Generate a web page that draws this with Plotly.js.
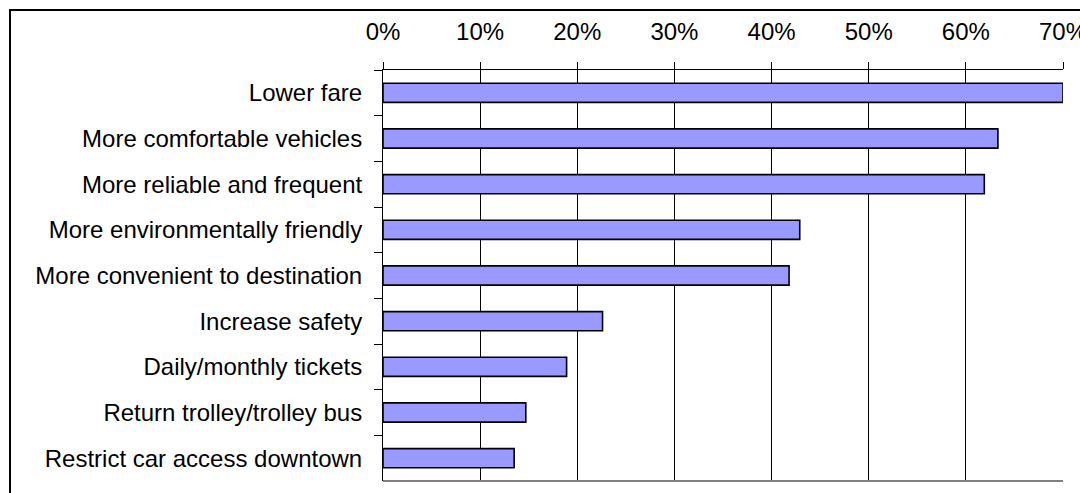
<!DOCTYPE html>
<html>
<head>
<meta charset="utf-8">
<script src="https://cdn.plot.ly/plotly-3.0.1.min.js"></script>
<style>
  html, body { margin: 0; padding: 0; background: #fff; }
  #chart { width: 1080px; height: 493px; }
</style>
</head>
<body>
<div id="chart"></div>
<script>
const categories = [
  'Lower fare',
  'More comfortable vehicles',
  'More reliable and frequent',
  'More environmentally friendly',
  'More convenient to destination',
  'Increase safety',
  'Daily/monthly tickets',
  'Return trolley/trolley bus',
  'Restrict car access downtown'
];
const values = [70.0, 63.3, 61.9, 42.9, 41.8, 22.6, 18.9, 14.7, 13.5];
const tickValues = [0, 10, 20, 30, 40, 50, 60, 70];

const fontFamily = '"Liberation Sans", Arial, sans-serif';
const fontSize = 24;

const trace = {
  type: 'bar',
  orientation: 'h',
  x: values,
  y: categories,
  marker: { color: '#9999FF', line: { color: '#000000', width: 1.6 } },
  width: 0.42,
  hoverinfo: 'skip'
};

const layout = {
  width: 1080,
  height: 493,
  margin: { l: 383, r: 17, t: 70, b: 12, pad: 0 },
  paper_bgcolor: '#ffffff',
  plot_bgcolor: '#ffffff',
  font: { family: fontFamily, size: fontSize, color: '#000000' },
  showlegend: false,
  xaxis: {
    side: 'top',
    range: [0, 70],
    tickvals: tickValues,
    ticktext: tickValues.map(v => v + '%'),
    showgrid: true,
    gridcolor: '#000000',
    gridwidth: 1,
    zeroline: false,
    showline: true,
    linecolor: '#000000',
    linewidth: 1,
    ticks: 'outside',
    ticklen: 7,
    tickcolor: '#000000',
    tickwidth: 1,
    ticklabelstandoff: 12,
    ticklabeloverflow: 'allow',
    tickfont: { family: fontFamily, size: fontSize, color: '#000000' },
    fixedrange: true
  },
  yaxis: {
    type: 'category',
    autorange: 'reversed',
    showgrid: false,
    zeroline: false,
    showline: true,
    linecolor: '#000000',
    linewidth: 1,
    ticks: 'outside',
    tickson: 'boundaries',
    ticklen: 8,
    tickcolor: '#000000',
    tickwidth: 1,
    ticklabelstandoff: 15,
    tickfont: { family: fontFamily, size: fontSize, color: '#000000' },
    fixedrange: true
  },
  shapes: [
    {
      type: 'line', xref: 'paper', yref: 'paper',
      x0: 0, x1: 1, y0: 0, y1: 0,
      line: { color: '#808080', width: 2 }
    },
    {
      type: 'rect', xref: 'paper', yref: 'paper',
      x0: -0.5485, x1: 1.06, y0: -0.08, y1: 1.146,
      line: { color: '#000000', width: 2 },
      fillcolor: 'rgba(0,0,0,0)'
    }
  ]
};

Plotly.newPlot('chart', [trace], layout, { displayModeBar: false, staticPlot: true });
</script>
</body>
</html>
